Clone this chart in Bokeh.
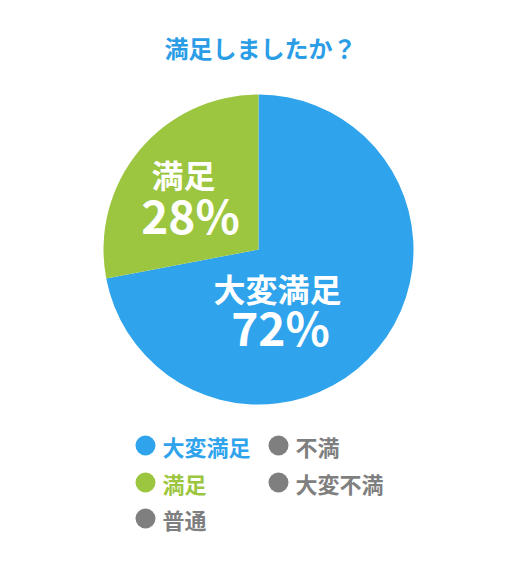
import numpy as np
from bokeh.plotting import figure
from bokeh.models import Range1d, ColumnDataSource
from bokeh.core.properties import value
from bokeh.embed import file_html
from bokeh.resources import INLINE

title = "満足しましたか？"
categories = ["大変満足", "満足", "普通", "不満", "大変不満"]
values = [72, 28, 0, 0, 0]
colors = ["#2FA4EC", "#9DC640", "#7F7F7F", "#7F7F7F", "#7F7F7F"]
pct_labels = ["72%", "28%"]

FONT = "Noto Sans CJK JP"
W, H = 513, 569
OFF = 0

def X(sx):
    return sx - OFF

def Y(sy):
    return H - (sy - OFF)

p = figure(width=W, height=H, output_backend="svg", toolbar_location=None,
           x_range=Range1d(0, W), y_range=Range1d(0, H), min_border=0)
p.axis.visible = False
p.grid.visible = False
p.outline_line_color = None
p.background_fill_color = "white"

# pie: starts at top, runs clockwise; only non-empty slices are drawn
vals = np.array(values, dtype=float)
frac = vals / vals.sum()
ends = np.pi / 2 - 2 * np.pi * np.cumsum(frac)
starts = np.concatenate([[np.pi / 2], ends[:-1]])
keep = vals > 0
src = ColumnDataSource(dict(start=ends[keep], end=starts[keep],
                            color=[c for c, k in zip(colors, keep) if k]))
cx, cy, r = X(258), Y(249), 155
p.wedge(x=cx, y=cy, radius=r, start_angle="start", end_angle="end",
        fill_color="color", line_color=None, source=src)

# title
p.text(x=[X(260)], y=[Y(47)], text=[title], text_color="#2A9DE6",
       text_font=value(FONT), text_font_style="bold", text_font_size="24px",
       text_align="center", text_baseline="middle")

# slice labels
p.text(x=[X(183), X(277)], y=[Y(173), Y(287)], text=[categories[1], categories[0]],
       text_color="white", text_font=value(FONT), text_font_style="bold",
       text_font_size="32px", text_align="center", text_baseline="middle")
p.text(x=[X(190), X(280)], y=[Y(213), Y(325)], text=[pct_labels[1], pct_labels[0]],
       text_color="white", text_font=value(FONT), text_font_style="bold",
       text_font_size="46px", text_align="center", text_baseline="middle")

# legend (column-major, 3 rows)
lx = [X(145), X(145), X(145), X(278), X(278)]
ly = [Y(445), Y(482), Y(518), Y(445), Y(482)]
p.scatter(x=lx, y=ly, size=20, marker="circle", fill_color=colors, line_color=None)
p.text(x=[v + 17 for v in lx], y=ly, text=categories, text_color=colors,
       text_font=value(FONT), text_font_style="bold", text_font_size="22px",
       text_align="left", text_baseline="middle")

open("out.html", "w").write(file_html(p, INLINE))
